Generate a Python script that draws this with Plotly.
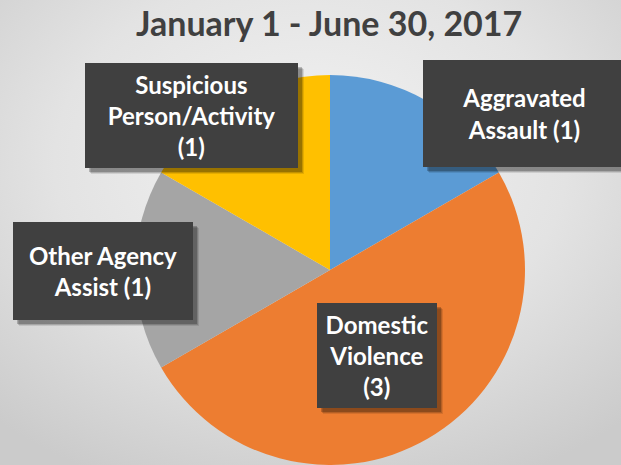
import base64
import plotly.graph_objects as go

# ---- data ----
categories = ["Aggravated Assault", "Domestic Violence", "Other Agency Assist", "Suspicious Person/Activity"]
counts = [1, 3, 1, 1]
label_texts = ["Aggravated<br>Assault (1)", "Domestic<br>Violence<br>(3)", "Other Agency<br>Assist (1)", "Suspicious<br>Person/Activity<br>(1)"]
colors = ["#5B9BD5", "#ED7D31", "#A5A5A5", "#FFC000"]
title_text = "January 1 - June 30, 2017"

W, H = 621, 465

# label box layout (pixel centre x, centre y, width, height)
label_boxes = [
    (524, 113.5, 202, 107),
    (377, 355.5, 120, 105),
    (103, 271, 180, 98),
    (191.5, 115.5, 213, 105),
]

def px(x):
    return x / W

def py(y):
    return 1 - y / H

# background gradient as svg image
svg = (
    f'<svg xmlns="http://www.w3.org/2000/svg" width="{W}" height="{H}">'
    '<defs><radialGradient id="g" cx="50%" cy="35%" r="75%">'
    '<stop offset="0" stop-color="#f3f3f3"/>'
    '<stop offset="0.55" stop-color="#e3e3e3"/>'
    '<stop offset="1" stop-color="#cbcbcb"/>'
    '</radialGradient></defs>'
    '<rect width="100%" height="100%" fill="url(#g)"/></svg>'
)
bg_src = "data:image/svg+xml;base64," + base64.b64encode(svg.encode()).decode()

fig = go.Figure()
fig.add_trace(go.Pie(
    labels=categories,
    values=counts,
    marker=dict(colors=colors, line=dict(width=0)),
    sort=False,
    direction="clockwise",
    rotation=0,
    textinfo="none",
    hoverinfo="label+value",
    showlegend=False,
    domain=dict(x=[(330 - 195) / W, (330 + 195) / W], y=[0, 390 / H]),
))

annotations = []
font_family = "Lato, 'Open Sans', sans-serif"
for (cx, cy, w, h), txt in zip(label_boxes, label_texts):
    # soft shadow layers
    for off, op in [(6, 0.10), (5, 0.15), (4, 0.22)]:
        annotations.append(dict(
            x=px(cx + off), y=py(cy + off), xref="paper", yref="paper",
            xanchor="center", yanchor="middle", showarrow=False,
            text="", width=w, height=h, bgcolor=f"rgba(0,0,0,{op})",
            borderpad=0, borderwidth=0,
        ))
    annotations.append(dict(
        x=px(cx), y=py(cy), xref="paper", yref="paper",
        xanchor="center", yanchor="middle", showarrow=False,
        text=f"<b>{txt}</b>", width=w, height=h, bgcolor="#404040",
        borderpad=0, borderwidth=0, align="center", valign="middle",
        font=dict(family=font_family, size=24, color="#ffffff"),
    ))

annotations.append(dict(
    x=px(329), y=py(23), xref="paper", yref="paper",
    xanchor="center", yanchor="middle", showarrow=False,
    text=f"<b>{title_text}</b>",
    font=dict(family=font_family, size=34, color="#404040"),
))

fig.update_layout(
    width=W, height=H,
    margin=dict(l=0, r=0, t=0, b=0),
    paper_bgcolor="#dedede",
    plot_bgcolor="rgba(0,0,0,0)",
    images=[dict(source=bg_src, xref="paper", yref="paper", x=0, y=1,
                 sizex=1, sizey=1, xanchor="left", yanchor="top",
                 sizing="stretch", layer="below")],
    annotations=annotations,
)

fig.write_html("out.html", config={"displayModeBar": False},
               post_script="document.body.style.margin='0';")
